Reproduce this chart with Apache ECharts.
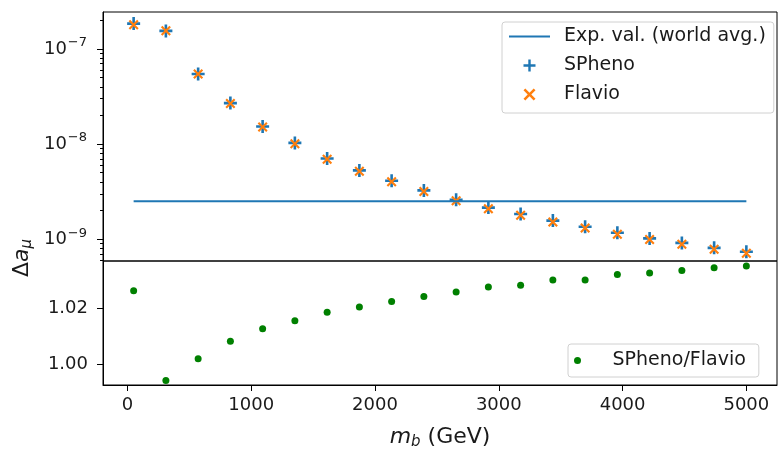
<!DOCTYPE html>
<html>
<head>
<meta charset="utf-8">
<script src="https://cdn.jsdelivr.net/npm/echarts@6/dist/echarts.min.js"></script>
<style>
  html, body { margin: 0; padding: 0; background: #fff; }
  #myChart { width: 779px; height: 451px; }
</style>
</head>
<body>
<div id="myChart"></div>
<script>
// masses m_b (GeV)
const mb = [50, 310.5, 571.1, 831.6, 1092.1, 1352.6, 1613.2, 1873.7, 2134.2, 2394.7,
  2655.3, 2915.8, 3176.3, 3436.8, 3697.4, 3957.9, 4218.4, 4478.9, 4739.5, 5000]
const spheno = [1.85e-7, 1.55e-7, 5.46e-8, 2.70e-8, 1.53e-8, 1.03e-8, 7.06e-9, 5.29e-9, 4.12e-9, 3.26e-9,
  2.60e-9, 2.15e-9, 1.84e-9, 1.57e-9, 1.35e-9, 1.17e-9, 1.02e-9, 9.15e-10, 8.11e-10, 7.38e-10]
const flavio = [1.80e-7, 1.56e-7, 5.45e-8, 2.68e-8, 1.51e-8, 1.01e-8, 6.93e-9, 5.18e-9, 4.03e-9, 3.18e-9,
  2.53e-9, 2.09e-9, 1.79e-9, 1.52e-9, 1.31e-9, 1.13e-9, 0.99e-9, 8.85e-10, 7.84e-10, 7.13e-10]
const ratio = [1.0263, 0.9941, 1.0019, 1.0082, 1.0127, 1.0156, 1.0186, 1.0205, 1.0225, 1.0243,
  1.0259, 1.0277, 1.0283, 1.0302, 1.0302, 1.0322, 1.0327, 1.0336, 1.0346, 1.0352]
const expX = [50, 5000]
const expVal = 2.51e-9
const xTicks = [0, 1000, 2000, 3000, 4000, 5000]
const logMajor = [1e-9, 1e-8, 1e-7]
const logMinor = [6e-10, 7e-10, 8e-10, 9e-10, 2e-9, 3e-9, 4e-9, 5e-9, 6e-9, 7e-9, 8e-9, 9e-9,
  2e-8, 3e-8, 4e-8, 5e-8, 6e-8, 7e-8, 8e-8, 9e-8, 2e-7]
const ratioTicks = [1.00, 1.02]

let myChart = echarts.init(document.getElementById('myChart'))
let colors = ['#1f77b4', '#ff7f0e', '#008000']
let font = 'DejaVu Sans'
let ink = '#1a1a1a'
let plusPath = 'path://M4,0H6V4H10V6H6V10H4V6H0V4H4Z'
let crossPath = 'path://M0,1.5L1.5,0L5,3.5L8.5,0L10,1.5L6.5,5L10,8.5L8.5,10L5,6.5L1.5,10L0,8.5L3.5,5Z'
let xMin = -197.5
let xMax = 5247.5
let yMin = 5.9e-10
let yMax = 2.45e-7

let option = {
  animation: false,
  textStyle: { fontFamily: font, color: ink },
  grid: [
    { left: 103, top: 12, right: 2, height: 249, show: true, borderColor: '#000', borderWidth: 1 },
    { left: 103, top: 261, right: 2, height: 127, show: true, borderColor: '#000', borderWidth: 1 }
  ],
  legend: [
    {
      orient: 'vertical', left: 502, top: 22,
      padding: [5, 8, 9, 6], itemGap: 10, itemWidth: 41, itemHeight: 12,
      backgroundColor: 'rgba(255,255,255,0.8)', borderColor: '#d0d0d0', borderWidth: 1, borderRadius: 3,
      textStyle: { fontFamily: font, fontSize: 19, lineHeight: 19, color: ink, padding: [0, 0, 0, 9] },
      data: [
        { name: 'Exp. val. (world avg.)', itemStyle: { opacity: 0 } },
        { name: 'SPheno', icon: plusPath },
        { name: 'Flavio', icon: crossPath }
      ]
    },
    {
      orient: 'vertical', left: 568, top: 344,
      padding: [7, 13, 7, 6], itemWidth: 38, itemHeight: 7,
      backgroundColor: 'rgba(255,255,255,0.8)', borderColor: '#d0d0d0', borderWidth: 1, borderRadius: 3,
      textStyle: { fontFamily: font, fontSize: 19, lineHeight: 19, color: ink, padding: [0, 0, 0, 11] },
      data: [{ name: 'SPheno/Flavio', icon: 'circle' }]
    }
  ],
  xAxis: [
    {
      type: 'value', gridIndex: 0, min: xMin, max: xMax,
      axisLine: { show: false }, axisTick: { show: false }, axisLabel: { show: false }, splitLine: { show: false }
    },
    {
      type: 'value', gridIndex: 1, min: xMin, max: xMax,
      axisLine: { show: true, onZero: false, lineStyle: { color: '#000' } },
      axisTick: { show: true, length: 6, lineStyle: { color: '#000' }, customValues: xTicks },
      axisLabel: {
        show: true, fontSize: 18, color: ink, margin: 11, customValues: xTicks,
        formatter: function (v) { return String(v) }
      },
      splitLine: { show: false },
      name: '{i|m}{sub|b} (GeV)', nameLocation: 'middle', nameGap: 40,
      nameTextStyle: {
        fontSize: 22, color: ink,
        rich: {
          i: { fontSize: 22, fontStyle: 'italic', fontFamily: font, color: ink },
          sub: { fontSize: 15, fontStyle: 'italic', fontFamily: font, color: ink, padding: [10, 0, 0, 0] }
        }
      }
    }
  ],
  yAxis: [
    {
      type: 'log', logBase: 10, gridIndex: 0, min: yMin, max: yMax, position: 'left',
      axisLine: { show: true, onZero: false, lineStyle: { color: '#000' } },
      axisTick: { show: true, length: 6, lineStyle: { color: '#000' }, customValues: logMajor },
      axisLabel: {
        show: true, margin: 16, customValues: logMajor,
        formatter: function (v) {
          let e = Math.round(Math.log10(v))
          return '{b|10}{s|\u2212' + (-e) + '}'
        },
        rich: {
          b: { fontSize: 18, fontFamily: font, color: ink },
          s: { fontSize: 13, fontFamily: font, color: ink, padding: [0, 0, 12, 1] }
        }
      },
      splitLine: { show: false }
    },
    {
      type: 'log', logBase: 10, gridIndex: 0, min: yMin, max: yMax, position: 'left',
      axisLine: { show: false, onZero: false },
      axisTick: { show: true, length: 3, lineStyle: { color: '#000' }, customValues: logMinor },
      axisLabel: { show: false },
      splitLine: { show: false }
    },
    {
      type: 'value', gridIndex: 1, min: 0.9925, max: 1.037, position: 'left',
      axisLine: { show: true, onZero: false, lineStyle: { color: '#000' } },
      axisTick: { show: true, length: 6, lineStyle: { color: '#000' }, customValues: ratioTicks },
      axisLabel: {
        show: true, fontSize: 18, color: ink, margin: 15, customValues: ratioTicks,
        formatter: function (v) { return v.toFixed(2) }
      },
      splitLine: { show: false }
    }
  ],
  graphic: [
    {
      type: 'text', left: 11, top: 239, rotation: Math.PI / 2,
      style: {
        text: '\u0394{i|a}{sub|\u03bc}', fontSize: 22, fontFamily: font, fill: ink,
        rich: {
          i: { fontSize: 22, fontStyle: 'italic', fontFamily: font, fill: ink },
          sub: { fontSize: 15, fontStyle: 'italic', fontFamily: font, fill: ink, padding: [10, 0, 0, 0] }
        }
      }
    }
  ],
  series: [
    {
      name: 'Exp. val. (world avg.)', type: 'line', xAxisIndex: 0, yAxisIndex: 0,
      symbol: 'none', color: colors[0], lineStyle: { width: 2, color: colors[0] },
      data: expX.map(x => [x, expVal])
    },
    {
      name: 'SPheno', type: 'scatter', xAxisIndex: 0, yAxisIndex: 0,
      symbol: plusPath, symbolSize: 13, symbolKeepAspect: true,
      itemStyle: { color: colors[0], opacity: 1 },
      data: mb.map((x, i) => [x, spheno[i]])
    },
    {
      name: 'Flavio', type: 'scatter', xAxisIndex: 0, yAxisIndex: 0,
      symbol: crossPath, symbolSize: 10, symbolKeepAspect: true,
      itemStyle: { color: colors[1], opacity: 1 },
      data: mb.map((x, i) => [x, flavio[i]])
    },
    {
      name: 'SPheno/Flavio', type: 'scatter', xAxisIndex: 1, yAxisIndex: 2,
      symbol: 'circle', symbolSize: 7,
      itemStyle: { color: colors[2], opacity: 1 },
      data: mb.map((x, i) => [x, ratio[i]])
    }
  ]
}
myChart.setOption(option, true)
</script>
</body>
</html>
